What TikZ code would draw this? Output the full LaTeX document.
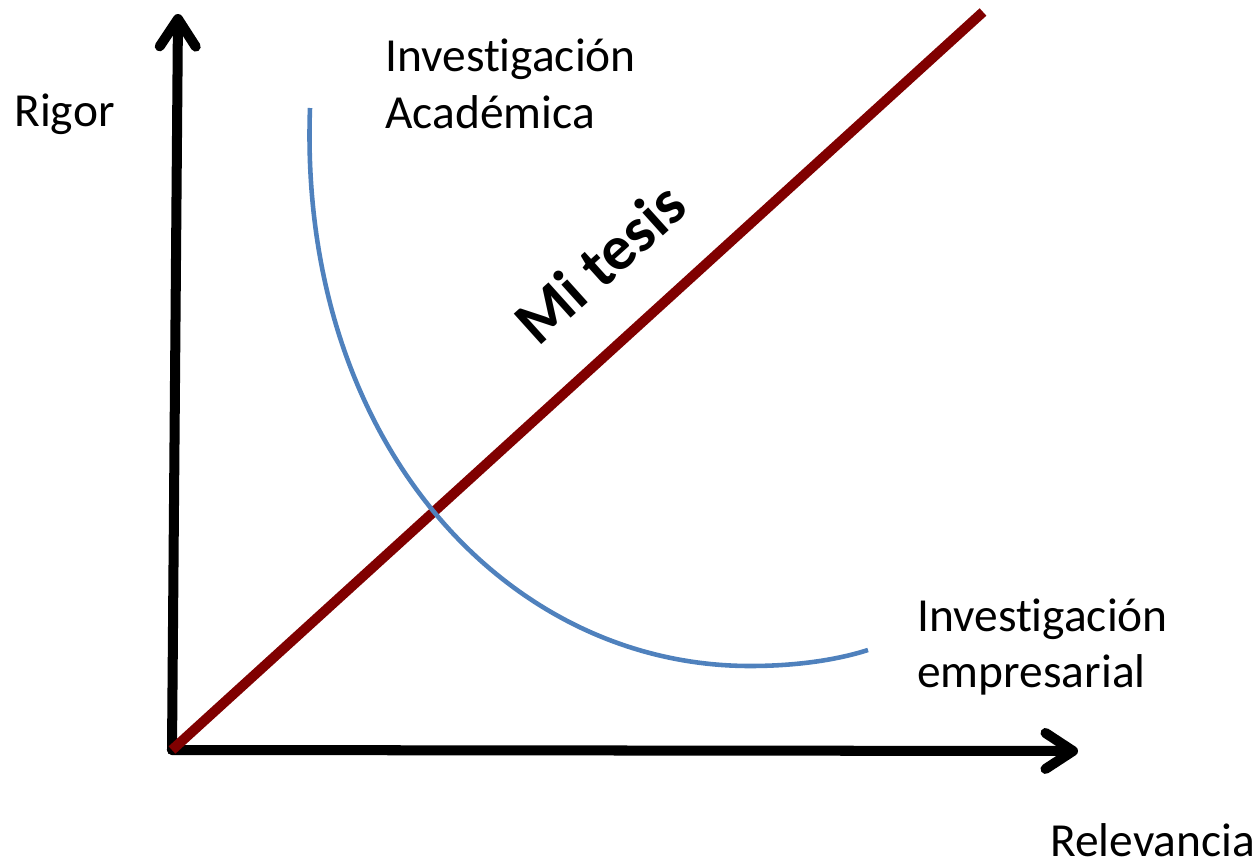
\documentclass[tikz,border=0pt]{standalone}
\usepackage{fontspec}
\setmainfont{Carlito}[Ligatures=NoCommon]
\usetikzlibrary{arrows.meta}
\definecolor{tesisred}{RGB}{128,0,0}
\definecolor{curveblue}{RGB}{79,129,189}
\tikzset{
  axis/.style={line width=5.7pt, line cap=round,
    -{Straight Barb[length=0.55cm,width=0.72cm,line cap=round,line join=round]}},
  label/.style={font=\fontsize{27pt}{32.4pt}\selectfont, align=left, inner sep=0pt}
}

\begin{document}
\begin{tikzpicture}[x=0.02cm,y=-0.02cm]
\useasboundingbox (0,0) rectangle (1259,862);
\newcommand{\lw}{5.7pt}

\coordinate (origin) at (172,750);
\coordinate (ytip) at (178,14);
\coordinate (xtip) at (1078,751);
\coordinate (tesistop) at (983,12);

\draw [axis] (origin) -- (ytip);
\draw [axis] (origin) -- (xtip);
\draw [tesisred, line width=\lw] (origin) -- (tesistop);
\draw [curveblue, line width=2.6pt] (310,108) .. controls (298,440) and (505,666) .. (750,666)
  .. controls (800,666) and (840,659) .. (868,650);

\node [label, anchor=west] (rigor) at (14,114) {Rigor};
\node [label, anchor=west] (academica) at (385,84) {Investigación\\Académica};
\node [label, anchor=west] (empresarial) at (917,647) {Investigación\\empresarial};
\node [label, anchor=west] (relevancia) at (1050,840) {Relevancia};
\node [font=\fontsize{36pt}{42pt}\selectfont\bfseries, rotate=42, inner sep=0pt] (tesis) at (600,263) {Mi tesis};
\end{tikzpicture}
\end{document}
